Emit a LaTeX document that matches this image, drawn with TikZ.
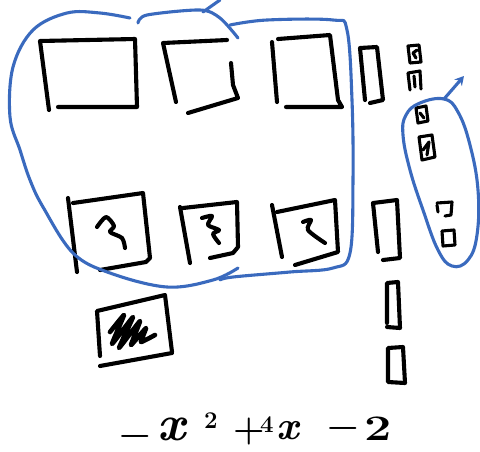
\documentclass[tikz,border=0pt]{standalone}
\usetikzlibrary{arrows.meta}
\definecolor{inkblue}{RGB}{58,106,190}
\tikzset{
  ink/.style={line width=4.1pt, line cap=round, line join=round, black},
  smallink/.style={line width=3.1pt, line cap=round, line join=round, black},
  lasso/.style={line width=3.1pt, line cap=round, line join=round, inkblue},
  term/.style={inner sep=0pt, font=\fontsize{36}{36}\selectfont\bfseries},
  sup/.style={inner sep=0pt, font=\fontsize{24}{24}\selectfont\bfseries}
}
\begin{document}
\begin{tikzpicture}[x=1pt,y=-1pt]
\useasboundingbox (0,0) rectangle (480,451);
\fill[white] (0,0) rectangle (480,451);

% top row of x^2 tiles
\draw[ink] (49,110) -- (40,41) -- (135,39) -- (137,107) -- (58,107);
\draw[ink] (176,102) -- (163,43) -- (227,40);
\draw[ink] (231,63) -- (233,85) -- (238,98) -- (188,113);
\draw[ink] (272,42) -- (277,102);
\draw[ink] (278,39) -- (330,35) -- (338,100) -- (342,107) -- (286,107);
\draw[ink] (365,100) -- (360,48) -- (377,47) -- (383,100) -- (370,103);

% bottom row of negative x^2 tiles
\draw[ink] (68,198) -- (77,272);
\draw[ink] (73,203) -- (143,193) -- (150,258) -- (146,262) -- (100,270);
\draw[ink] plot[smooth] coordinates {(97,227) (106,217) (114,226) (110,232) (122,238) (125,248)};
\draw[ink] (180,207) -- (190,263);
\draw[ink] (183,208) -- (237,202) -- (238,247) -- (233,253) -- (210,258);
\draw[ink] plot[smooth] coordinates {(202,218) (212,216) (208,225) (219,230) (213,234) (219,243)};
\draw[ink] (272,205) -- (282,257);
\draw[ink] (277,212) -- (335,200) -- (338,252) -- (295,265);
\draw[ink] plot[smooth] coordinates {(303,222) (311,220) (308,230) (325,243)};

% x tiles column
\draw[ink] (378,252) -- (373,203) -- (397,200) -- (400,258) -- (383,260);
\draw[ink] (387,323) -- (387,283) -- (398,282) -- (400,328) -- (387,327);
\draw[ink] (388,348) -- (403,347) -- (405,383) -- (388,382) -- cycle;

% scribbled tile
\draw[ink] (100,356) -- (97,311) -- (165,295) -- (172,352);
\draw[ink] (100,366) -- (172,353);
\draw[ink, line width=4.6pt] plot[smooth, tension=0.2] coordinates {(110,332) (124,315) (112,344) (133,317) (119,348) (140,321) (131,345) (146,328) (141,342) (155,335)};

% unit tiles
\draw[smallink] (408,46) -- (419,45) -- (421,62) -- (410,63) -- cycle;
\draw[smallink] (417,50) -- (413,53) -- (416,58);
\draw[smallink] (410,90) -- (408,73) -- (420,71) -- (421,89);
\draw[smallink] (414,76) -- (415,87);
\draw[smallink] (416,108) -- (426,106) -- (428,121) -- (418,123) -- cycle;
\draw[smallink] (420,113) -- (424,118);
\draw[smallink] (419,137) -- (432,135) -- (435,157) -- (422,160) -- cycle;
\draw[smallink] (423,150) -- (429,142) -- (427,155);
\draw[smallink] (437,205) -- (438,212);
\draw[smallink] (437,203) -- (452,202) -- (451,215) -- (445,216);
\draw[smallink] (442,231) -- (454,230) -- (455,245) -- (443,246) -- cycle;

% blue loops
\draw[lasso] plot[smooth, tension=0.6] coordinates {(130,18) (100,13) (67,13) (33,30) (13,67) (10,117) (20,150) (30,180) (43,207) (73,253) (110,273) (167,287) (213,280) (238,268)};
\draw[lasso] plot[smooth, tension=0.6] coordinates {(220,280) (233,277) (290,272) (333,268) (350,253) (353,180) (352,100) (347,30) (333,20) (267,20) (230,25)};
\draw[lasso] plot[smooth] coordinates {(138,23) (147,15) (200,10) (220,18) (238,38)};
\draw[lasso] (203,12) -- (220,0);
\draw[lasso] plot[smooth cycle, tension=0.7] coordinates {(444,99) (420,103) (406,115) (403,135) (410,170) (423,210) (438,250) (452,266) (468,260) (477,235) (478,190) (470,145) (458,112)};
\draw[lasso, -{Stealth[length=9pt,width=10pt]}] (444,99) -- (464,76);

% expression
\node[term] (m1) at (135,440) {−};
\node[term, font=\fontsize{50}{50}\selectfont\bfseries\itshape] (x1) at (172,429) {x};
\node[sup] (e1) at (211,421) {2};
\node[term, font=\fontsize{36}{36}\selectfont\bfseries] (p1) at (249,432) {+};
\node[sup] (c1) at (267,425) {4};
\node[term, font=\fontsize{40}{40}\selectfont\bfseries\itshape] (x2) at (288,431) {x};
\node[term] (m2) at (343,432) {−};
\node[term] (n2) at (378,429) {\scalebox{1.35}[1]{2}};
\end{tikzpicture}
\end{document}
